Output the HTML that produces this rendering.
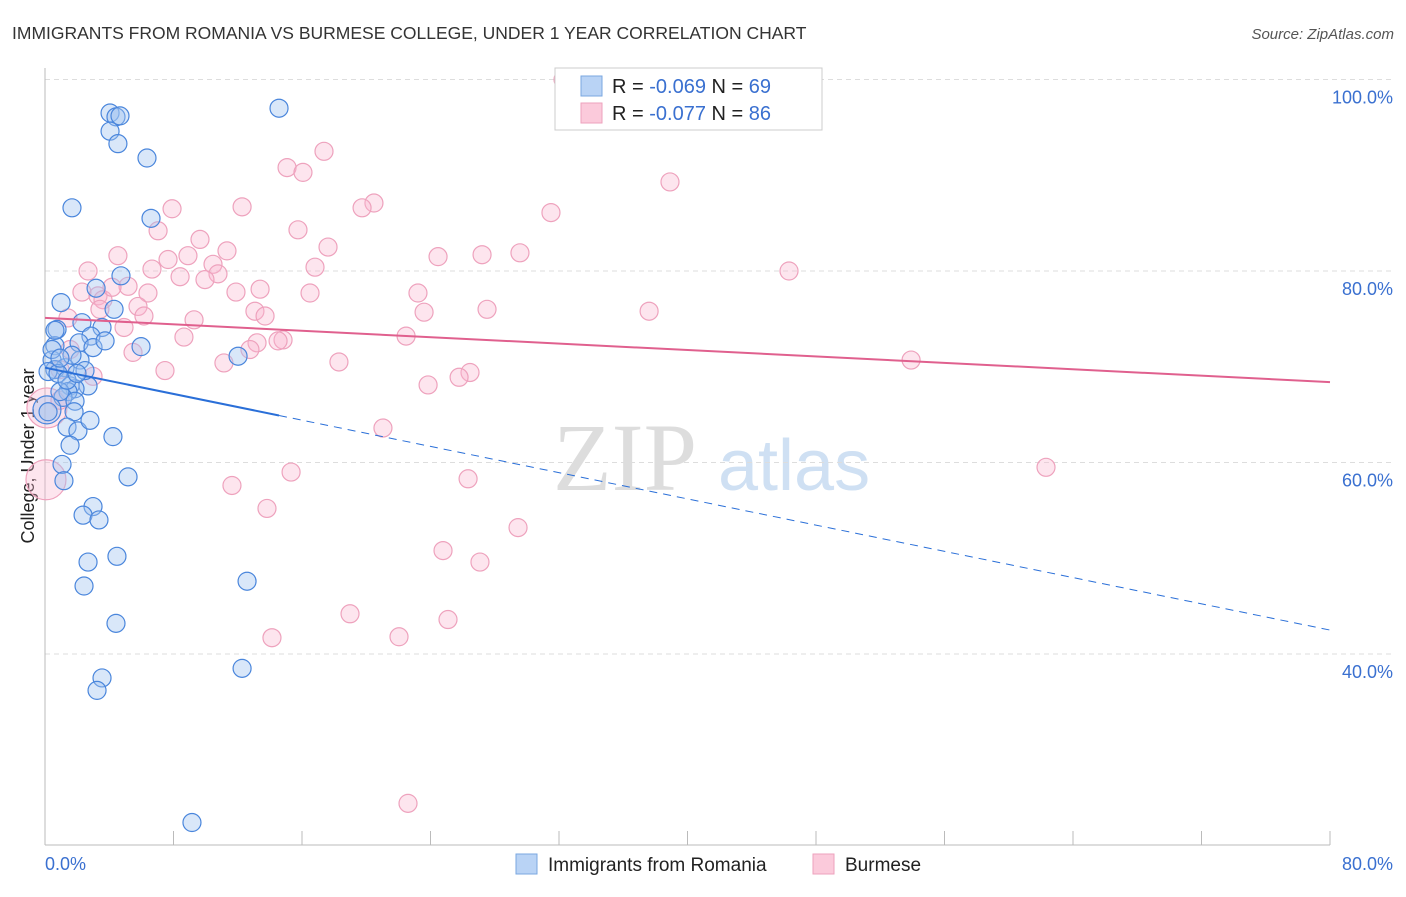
<!DOCTYPE html>
<html><head><meta charset="utf-8"><style>
body{margin:0;background:#fff;font-family:"Liberation Sans",sans-serif}
</style></head><body>
<svg width="1406" height="892" xmlns="http://www.w3.org/2000/svg" id="chart" style="font-family:'Liberation Sans',sans-serif">
<text x="12" y="39" font-size="17.5" fill="#333">IMMIGRANTS FROM ROMANIA VS BURMESE COLLEGE, UNDER 1 YEAR CORRELATION CHART</text>
<text x="1394" y="39" font-size="15" fill="#555" font-style="italic" text-anchor="end">Source: ZipAtlas.com</text>
<text x="0" y="0" transform="translate(34,456) rotate(-90)" font-size="18" fill="#222" text-anchor="middle">College, Under 1 year</text>
<g><text x="553" y="490" font-size="96" font-family="Liberation Serif,serif" fill="#ddd">ZIP</text><text x="718" y="490" font-size="72" fill="#cfe0f3">atlas</text></g>
<g id="grid"></g><g id="axes"></g><g id="pts"></g><g id="trend"></g>
<g>
<rect x="555" y="68" width="267" height="62" fill="#fff" stroke="#ccc"/>
<rect x="581" y="76" width="21" height="20" fill="#b9d3f5" stroke="#7aa7e0"/>
<rect x="581" y="103" width="21" height="20" fill="#fbcadb" stroke="#eea2bd"/>
<text x="612" y="93" font-size="20" fill="#222">R = <tspan fill="#3a70d0">-0.069</tspan>   N = <tspan fill="#3a70d0">69</tspan></text>
<text x="612" y="120" font-size="20" fill="#222">R = <tspan fill="#3a70d0">-0.077</tspan>   N = <tspan fill="#3a70d0">86</tspan></text>
</g>
<g>
<rect x="516" y="854" width="21" height="20" fill="#b9d3f5" stroke="#7aa7e0"/>
<text x="548" y="871" font-size="19" fill="#222">Immigrants from Romania</text>
<rect x="813" y="854" width="21" height="20" fill="#fbcadb" stroke="#eea2bd"/>
<text x="845" y="871" font-size="19" fill="#222">Burmese</text>
</g>
</svg>
<script>
const blueX=[4.05,4.42,4.67,4.05,4.54,14.57,6.35,1.68,6.60,4.73,3.18,1.00,4.30,2.30,3.55,0.75,2.86,2.12,0.62,5.98,2.99,12.02,2.18,0.44,1.25,0.62,0.19,0.81,1.56,2.68,1.87,1.43,1.12,1.87,0.12,1.81,1.37,2.05,4.23,1.56,1.06,5.17,1.18,2.99,2.37,3.36,4.48,2.68,12.58,2.43,4.42,12.27,3.55,3.24,9.15,0.19,0.93,0.44,0.62,2.49,1.37,2.80,1.68,3.74,0.93,1.99];
const blueY=[96.5,96.1,96.2,94.6,93.3,97.0,91.8,86.6,85.5,79.5,78.2,76.7,76.0,74.6,74.1,73.9,73.2,72.5,72.2,72.1,72.0,71.1,70.7,70.7,69.9,69.7,69.5,69.3,68.0,68.0,67.7,67.4,66.8,66.4,65.5,65.3,63.7,63.3,62.7,61.8,59.8,58.5,58.1,55.4,54.5,54.0,50.2,49.6,47.6,47.1,43.2,38.5,37.5,36.2,22.4,65.3,67.4,71.8,73.8,69.6,68.6,64.4,71.2,72.7,70.9,69.3];
const pinkX=[32.25,17.37,15.07,16.06,20.48,19.74,38.91,12.27,7.91,31.50,7.04,15.75,9.65,11.33,17.62,4.54,8.90,24.47,27.21,29.57,7.66,6.66,10.46,10.77,8.41,16.81,2.68,46.32,11.89,6.41,2.30,3.30,3.61,5.17,4.17,16.50,23.22,5.79,6.16,13.07,13.70,23.60,27.52,37.61,1.43,9.28,4.92,8.65,22.48,13.20,14.82,14.51,12.76,5.48,11.14,18.30,53.92,7.47,2.99,26.46,25.78,23.85,0.93,0.12,21.04,15.32,11.64,26.34,62.32,13.82,29.45,24.78,27.08,18.99,25.09,14.13,22.04,22.60,0.93,1.56,3.42,9.96,13.39,0.06];
const pinkY=[100.0,92.5,90.8,90.3,87.1,86.6,89.3,86.7,86.5,86.1,84.2,84.3,83.3,82.1,82.5,81.6,81.6,81.5,81.7,81.9,81.2,80.2,80.7,79.7,79.4,80.4,80.0,80.0,77.8,77.7,77.8,77.4,77.0,78.4,78.3,77.7,77.7,76.3,75.3,75.8,75.3,75.7,76.0,75.8,75.1,74.9,74.1,73.1,73.2,72.5,72.8,72.7,71.8,71.5,70.4,70.5,70.7,69.6,69.0,69.4,68.9,68.1,69.7,65.7,63.6,59.0,57.6,58.3,59.5,55.2,53.2,50.8,49.6,44.2,43.6,41.7,41.8,24.4,66.5,71.8,76.0,79.1,78.1,58.2];
const yTicks=[40,60,80,100];
const yTickLabels=["40.0%","60.0%","80.0%","100.0%"];
const trendIntercept=[69.9,75.1];
const trendSlope=[-0.3425,-0.0838];
const ns="http://www.w3.org/2000/svg";
const X=v=>45+v/80*1285, Y=v=>79.5+(100-v)/20*191.5;
function mk(p,t,a){const e=document.createElementNS(ns,t);for(const k in a)e.setAttribute(k,a[k]);document.getElementById(p).appendChild(e);return e;}
yTicks.forEach((t,i)=>{
 const l=mk('grid','line',{x1:45,x2:1394,y1:Y(t),y2:Y(t),stroke:'#ddd','stroke-dasharray':'5,4'});
 
 
 const tx=mk('grid','text',{x:1393,y:Y(t)+24,'font-size':18,fill:'#3a70d0','text-anchor':'end'});
 tx.textContent=yTickLabels[i];
 
 
});
let ax=mk('axes','line',{x1:45,x2:45,y1:68,y2:845,stroke:'#bbb'});


ax=mk('axes','line',{x1:45,x2:1330,y1:845,y2:845,stroke:'#bbb'});


for(let i=0;i<=10;i++){const t=mk('axes','line',{x1:X(i*8),x2:X(i*8),y1:831,y2:845,stroke:'#bbb'});
 
 }
let xl=mk('axes','text',{x:45,y:870,'font-size':18,fill:'#3a70d0'});xl.textContent='0.0%';


xl=mk('axes','text',{x:1393,y:870,'font-size':18,fill:'#3a70d0','text-anchor':'end'});xl.textContent='80.0%';


pinkX.forEach((v,i)=>{const c=mk('pts','circle',{cx:X(v),cy:Y(pinkY[i]),r:(v<0.2?20:9),fill:'rgba(248,180,205,0.35)',stroke:'#eea2bd','stroke-width':1.2});
 
 });
blueX.forEach((v,i)=>{const c=mk('pts','circle',{cx:X(v),cy:Y(blueY[i]),r:(v<0.15?14:9),fill:'rgba(160,195,240,0.4)',stroke:'#4a86dc','stroke-width':1.2});
 
 });
const bEnd=14.57;
let tl=mk('trend','line',{x1:X(0),y1:Y(trendIntercept[0]),x2:X(bEnd),y2:Y(trendIntercept[0]+trendSlope[0]*bEnd),stroke:'#2a6fd8','stroke-width':2});


tl=mk('trend','line',{x1:X(bEnd),y1:Y(trendIntercept[0]+trendSlope[0]*bEnd),x2:X(80),y2:Y(trendIntercept[0]+trendSlope[0]*80),stroke:'#2a6fd8','stroke-width':1,'stroke-dasharray':'8,6'});


tl=mk('trend','line',{x1:X(0),y1:Y(trendIntercept[1]),x2:X(80),y2:Y(trendIntercept[1]+trendSlope[1]*80),stroke:'#e0608e','stroke-width':2});


</script>
</body></html>
